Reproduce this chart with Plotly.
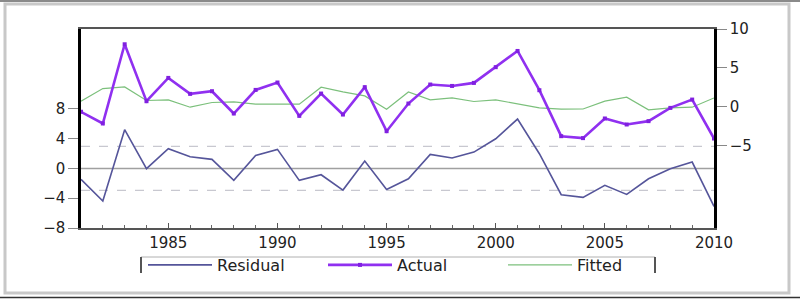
import plotly.graph_objects as go

years = list(range(1981, 2011))

actual = [-0.64, -2.13, 8.04, 0.73, 3.72, 1.67, 2.01, -0.85, 2.18, 3.13,
          -1.15, 1.71, -0.98, 2.53, -3.12, 0.43, 2.87, 2.69, 3.08, 5.10,
          7.18, 2.14, -3.76, -4.01, -1.49, -2.26, -1.83, -0.13, 0.94, -4.06]

fitted = [0.73, 2.35, 2.56, 0.82, 0.90, -0.04, 0.56, 0.64, 0.35, 0.35,
          0.35, 2.53, 1.92, 1.41, -0.29, 1.92, 0.90, 1.15, 0.69, 0.90,
          0.38, -0.13, -0.29, -0.27, 0.73, 1.24, -0.38, -0.13, -0.04, 1.15]

residual = [-1.48, -4.38, 5.19, -0.04, 2.64, 1.57, 1.21, -1.61, 1.74, 2.55,
            -1.61, -0.85, -2.91, 0.98, -2.82, -1.39, 1.88, 1.39, 2.19, 3.98,
            6.62, 1.97, -3.53, -3.89, -2.28, -3.49, -1.39, -0.04, 0.85, -5.10]

std_band = 2.95

x_ticks = [1985, 1990, 1995, 2000, 2005, 2010]
left_ticks = [-8, -4, 0, 4, 8]
right_ticks = [-5, 0, 5, 10]

FONT = "DejaVu Sans"

fig = go.Figure()

fig.add_trace(go.Scatter(
    x=years, y=residual, name="Residual", mode="lines",
    line=dict(color="#55559a", width=1.6), yaxis="y", legendrank=1))
fig.add_trace(go.Scatter(
    x=years, y=fitted, name="Fitted", mode="lines",
    line=dict(color="#7cc07c", width=1.2), yaxis="y2", legendrank=3))
fig.add_trace(go.Scatter(
    x=years, y=actual, name="Actual", mode="lines+markers",
    line=dict(color="#9030f0", width=2.6),
    marker=dict(symbol="square", size=4, color="#8020e0"),
    yaxis="y2", legendrank=2))

shapes = []
shapes.append(dict(type="line", xref="paper", yref="y", x0=0, x1=1, y0=0, y1=0,
                   line=dict(color="#a0a0a0", width=1.5), layer="below"))
for v in (std_band, -std_band):
    shapes.append(dict(type="line", xref="paper", yref="y", x0=0, x1=1, y0=v, y1=v,
                       line=dict(color="#c8c8d0", width=1.3, dash="dash"), layer="below"))

L, T, W, H = 81, 29, 633, 199
def px(x):
    return (x - L) / W
def py(y):
    return (T + H - y) / H

shapes.append(dict(type="rect", xref="paper", yref="paper",
                   x0=px(5), x1=px(789), y0=py(4), y1=py(293),
                   line=dict(color="#c8c8c8", width=3)))
shapes.append(dict(type="line", xref="paper", yref="paper",
                   x0=px(0), x1=px(800), y0=py(1), y1=py(1),
                   line=dict(color="#8a8a8a", width=2)))
shapes.append(dict(type="line", xref="paper", yref="paper",
                   x0=px(0), x1=px(800), y0=py(297.5), y1=py(297.5),
                   line=dict(color="#333333", width=1.5)))
shapes.append(dict(type="line", xref="paper", yref="paper",
                   x0=px(141), x1=px(655), y0=py(257), y1=py(257),
                   line=dict(color="#b0b0b0", width=1)))
for xx in (141, 655):
    shapes.append(dict(type="line", xref="paper", yref="paper",
                       x0=px(xx), x1=px(xx), y0=py(257), y1=py(273),
                       line=dict(color="#555555", width=2)))

fig.update_layout(
    width=800, height=305,
    margin=dict(l=L, r=800 - L - W, t=T, b=305 - T - H, autoexpand=False),
    paper_bgcolor="white", plot_bgcolor="white",
    font=dict(family=FONT, size=15, color="#222222"),
    showlegend=True,
    legend=dict(orientation="h", x=px(143), xanchor="left", y=py(265), yanchor="middle",
                font=dict(family=FONT, size=16, color="#222222"),
                itemwidth=64, entrywidth=101, entrywidthmode="pixels",
                bgcolor="rgba(0,0,0,0)", borderwidth=0),
    xaxis=dict(range=[1981, 2010], tickvals=x_ticks, showgrid=False, zeroline=False,
               showline=True, linecolor="#555555", linewidth=2, mirror=True,
               ticks="inside", ticklen=5, tickcolor="#555555",
               minor=dict(dtick=1, ticks="inside", ticklen=3, tickcolor="#666666"),
               tickfont=dict(family=FONT, size=15, color="#222222")),
    yaxis=dict(range=[-8, 18.71], tickvals=left_ticks, showgrid=False, zeroline=False,
               showline=True, linecolor="#000000", linewidth=2.5,
               ticks="outside", ticklen=10, tickcolor="#888888",
               tickfont=dict(family=FONT, size=15, color="#222222")),
    yaxis2=dict(range=[-15.55, 10], tickvals=right_ticks, overlaying="y", side="right",
                showgrid=False, zeroline=False,
                showline=True, linecolor="#000000", linewidth=2.5,
                ticks="outside", ticklen=10, tickcolor="#888888",
                tickfont=dict(family=FONT, size=15, color="#222222")),
    shapes=shapes,
)

fig.write_html("out.html", config={"displayModeBar": False},
               post_script="document.body.style.margin='0';document.body.style.overflow='hidden';")
